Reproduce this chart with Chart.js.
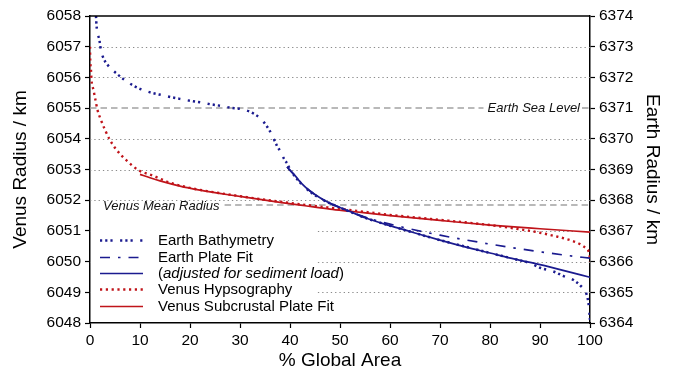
<!DOCTYPE html>
<html><head><meta charset="utf-8">
<script src="https://cdn.jsdelivr.net/npm/chart.js@4"></script>
<style>html,body{margin:0;padding:0;background:#fff}#wrap{width:673px;height:372px}</style>
</head><body><div id="wrap"><canvas id="c" width="673" height="372"></canvas></div>
<script>
// ---- data ----
const bathyArea   = [1.2,1.3,1.9,2.2,2.8,4.0,5.5,7.1,8.7,10.6,12.5,14.5,16.4,18.3,20.3,22.3,24.3,26.3,28.2,30.2,32,33.8,35.1,36.2,37.4,38,38.9,39.5,39.9,41,42.3,44,46,48,50,55,60,65,70,75,80,85,88,90,92.8,94.7,96.7,98.2,99.3,99.7,99.9,100];
const bathyEarth  = [6374.0,6373.7,6373.2,6372.88,6372.59,6372.32,6372.1,6371.9,6371.73,6371.59,6371.49,6371.42,6371.35,6371.29,6371.23,6371.18,6371.12,6371.07,6371.01,6370.97,6370.88,6370.7,6370.47,6370.19,6369.77,6369.61,6369.32,6369.18,6369.04,6368.77,6368.53,6368.28,6368.06,6367.9,6367.76,6367.43,6367.17,6366.93,6366.7,6366.49,6366.28,6366.08,6365.95,6365.8,6365.67,6365.53,6365.4,6365.2,6364.94,6364.64,6364.3,6364.1];
const plateArea   = [39.4,41,42.3,44,46,48,50,52,55,60,65,70,75,80,85,90,95,100];
const plateEarth  = [6369.08,6368.8,6368.55,6368.3,6368.08,6367.9,6367.76,6367.63,6367.45,6367.22,6367.03,6366.86,6366.71,6366.57,6366.44,6366.32,6366.21,6366.11];
const adjArea     = [39.4,41,42.3,44,46,48,50,52,55,60,65,70,75,80,85,90,95,100];
const adjEarth    = [6369.08,6368.8,6368.55,6368.3,6368.08,6367.9,6367.76,6367.63,6367.43,6367.17,6366.93,6366.7,6366.48,6366.28,6366.08,6365.9,6365.7,6365.49];
const hypsoArea   = [0,0.05,0.2,0.3,0.7,1.1,1.5,2.2,3.0,4.0,5.3,7.2,9.9,12.3,16,20,24,28,33,38,44,50,55,60,65,70,75,80,84,86,88,90,93,96,98,99.2,99.9,100];
const hypsoVenus  = [6057.0,6056.57,6056.24,6055.92,6055.59,6055.26,6054.94,6054.61,6054.29,6053.96,6053.64,6053.31,6052.96,6052.82,6052.57,6052.4,6052.28,6052.18,6052.06,6051.95,6051.83,6051.72,6051.62,6051.52,6051.44,6051.36,6051.28,6051.19,6051.1,6051.05,6051.0,6050.94,6050.83,6050.7,6050.57,6050.43,6050.21,6050.0];
const subArea     = [10,12,14,18,22,28,33,38,43,48,52,60,70,80,90,100];
const subVenus    = [6052.84,6052.73,6052.63,6052.46,6052.33,6052.17,6052.05,6051.93,6051.82,6051.71,6051.64,6051.5,6051.34,6051.19,6051.07,6050.96];

const xRange = [0, 100, 10];
const venusRange = [6048, 6058, 1];
const earthRange = [6364, 6374, 1];
const gridValues = [6049,6050,6051,6052,6053,6054,6056,6057];
const earthSeaLevel = 6371;
const venusMeanRadius = 6051.84;
const refLabels = ['Earth Sea Level', 'Venus Mean Radius'];
const axisTitles = ['% Global Area', 'Venus Radius / km', 'Earth Radius / km'];
const legendLabels = ['Earth Bathymetry', 'Earth Plate Fit', 'adjusted for sediment load', 'Venus Hypsography', 'Venus Subcrustal Plate Fit'];

const BLUE = '#1b1b8f', RED = '#c0141a';
const FONT = '"Liberation Sans", Arial, sans-serif';
const pts = (xs, ys) => xs.map((v, i) => ({x: v, y: ys[i]}));

const datasets = [
  {label: legendLabels[0], data: pts(bathyArea, bathyEarth), yAxisID: 'y2', borderColor: BLUE, borderWidth: 2.5, borderDash: [2.2,3,2.2,3,2.2,7.5], order: 0},
  {label: legendLabels[1], data: pts(plateArea, plateEarth), yAxisID: 'y2', borderColor: BLUE, borderWidth: 1.7, borderDash: [10,8,2.5,8], order: 2},
  {label: legendLabels[2], data: pts(adjArea, adjEarth), yAxisID: 'y2', borderColor: BLUE, borderWidth: 1.7, borderDash: [], order: 1},
  {label: legendLabels[3], data: pts(hypsoArea, hypsoVenus), yAxisID: 'y', borderColor: RED, borderWidth: 2.4, borderDash: [2.2,3.6], order: 4},
  {label: legendLabels[4], data: pts(subArea, subVenus), yAxisID: 'y', borderColor: RED, borderWidth: 1.7, borderDash: [], order: 3}
];
datasets.forEach(d => { d.pointRadius = 0; d.fill = false; d.cubicInterpolationMode = 'monotone'; d.borderCapStyle = 'butt'; });

function line(ctx, x1, y1, x2, y2) { ctx.beginPath(); ctx.moveTo(x1, y1); ctx.lineTo(x2, y2); ctx.stroke(); }

const overlay = {
  id: 'overlay',
  beforeDatasetsDraw(chart) {
    const {ctx, chartArea: a, scales: {y, y2}} = chart;
    ctx.save();
    ctx.strokeStyle = '#8a8a8a'; ctx.lineWidth = 1; ctx.setLineDash([1.3, 3]);
    gridValues.forEach(v => { const py = Math.round(y.getPixelForValue(v)) + 0.5; line(ctx, a.left, py, a.right, py); });
    // reference lines
    ctx.font = 'italic 13px ' + FONT; ctx.textBaseline = 'middle'; ctx.fillStyle = '#111';
    const sy = Math.round(y2.getPixelForValue(earthSeaLevel));
    const tw = ctx.measureText(refLabels[0]).width;
    const tx = a.right - 10 - tw;
    ctx.strokeStyle = '#a3a3a3'; ctx.lineWidth = 1.6; ctx.setLineDash([6.5, 4]);
    line(ctx, a.left, sy, tx - 4, sy); line(ctx, a.right - 8, sy, a.right, sy);
    ctx.fillText(refLabels[0], tx, sy + 0.5);
    const vy = Math.round(y.getPixelForValue(venusMeanRadius));
    const vx = a.left + 13;
    const vw = ctx.measureText(refLabels[1]).width;
    ctx.fillText(refLabels[1], vx, vy + 1.5);
    line(ctx, vx + vw + 5, vy, a.right, vy);
    // legend box
    ctx.setLineDash([]);
    ctx.fillStyle = '#fff';
    ctx.fillRect(a.left + 1, a.bottom - 97, 226, 96);
    ctx.restore();
  },
  afterDatasetsDraw(chart) {
    const {ctx, chartArea: a} = chart;
    ctx.save();
    const rowY = [240, 256.5, 272.7, 289, 305.5].map(v => a.bottom - 323 + v);
    const x0 = a.left + 10, x1 = a.left + 53, tx = a.left + 68;
    ctx.textBaseline = 'middle'; ctx.fillStyle = '#000';
    chart.data.datasets.forEach((d, i) => {
      const yy = Math.round(rowY[i]) + 0.5;
      ctx.strokeStyle = d.borderColor; ctx.lineWidth = d.borderWidth; ctx.setLineDash(d.borderDash || []);
      line(ctx, x0, yy, x1, yy);
      ctx.font = '15px ' + FONT;
      if (i === 2) {
        ctx.fillText('(', tx, yy);
        let px = tx + ctx.measureText('(').width;
        ctx.font = 'italic 15px ' + FONT;
        ctx.fillText(d.label, px, yy);
        px += ctx.measureText(d.label).width;
        ctx.font = '15px ' + FONT;
        ctx.fillText(')', px, yy);
      } else {
        ctx.fillText(d.label, tx, yy);
      }
    });
    ctx.setLineDash([]);
    ctx.strokeStyle = '#000'; ctx.lineWidth = 1.5;
    line(ctx, a.left, a.top, a.right, a.top);
    ctx.restore();
  }
};

const tickFont = {family: FONT, size: 15.5};
const titleFont = {family: FONT, size: 19};
new Chart(document.getElementById('c'), {
  type: 'line',
  data: {datasets},
  options: {
    responsive: false, animation: false, devicePixelRatio: 1,
    layout: {padding: {top: 16, right: 0, left: 0, bottom: 0}},
    plugins: {legend: {display: false}, tooltip: {enabled: false}},
    scales: {
      x: {type: 'linear', min: xRange[0], max: xRange[1],
          ticks: {stepSize: xRange[2], font: tickFont, color: '#000', padding: 3, maxRotation: 0},
          grid: {drawOnChartArea: false, tickLength: 5, tickColor: '#000', tickWidth: 1.2},
          border: {color: '#000', width: 1.5},
          title: {display: true, text: axisTitles[0], font: titleFont, color: '#000', padding: {top: 0, bottom: 0}},
          afterFit: s => { s.height = 49; }},
      y: {position: 'left', min: venusRange[0], max: venusRange[1],
          ticks: {stepSize: venusRange[2], font: tickFont, color: '#000', padding: 4, callback: v => String(v)},
          grid: {drawOnChartArea: false, tickLength: 5, tickColor: '#000', tickWidth: 1.2},
          border: {color: '#000', width: 1.5},
          title: {display: true, text: axisTitles[1], font: titleFont, color: '#000', padding: {top: 9, bottom: 0}},
          afterFit: s => { s.width = 90; }},
      y2: {position: 'right', min: earthRange[0], max: earthRange[1],
          ticks: {stepSize: earthRange[2], font: tickFont, color: '#000', padding: 4, callback: v => String(v)},
          grid: {drawOnChartArea: false, tickLength: 5, tickColor: '#000', tickWidth: 1.2},
          border: {color: '#000', width: 1.5},
          title: {display: true, text: axisTitles[2], font: titleFont, color: '#000', padding: {top: 9, bottom: 0}},
          afterFit: s => { s.width = 83; }}
    }
  },
  plugins: [overlay]
});
</script></body></html>
